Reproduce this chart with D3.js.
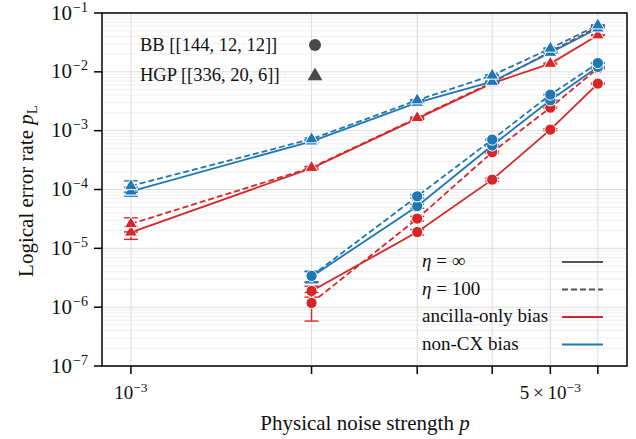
<!DOCTYPE html>
<html>
<head>
<meta charset="utf-8">
<script src="https://cdn.jsdelivr.net/npm/d3@7"></script>
<style>
  body { margin: 0; background: #fff; }
  text { font-family: "Liberation Serif", "DejaVu Serif", serif; fill: #111; }
</style>
</head>
<body>
<div id="chart"></div>
<script>
// x values (physical noise strength p)
const hgpP = [1e-3, 2e-3, 3e-3, 4e-3, 5e-3, 6e-3];
const bbP = [2e-3, 3e-3, 4e-3, 5e-3, 6e-3];

// HGP [[336,20,6]] logical error rates
const hgpAncInf = [1.87e-5, 2.3e-4, 1.6e-3, 6.4e-3, 1.38e-2, 4.2e-2];
const hgpAncInfErr = [4.5e-6, 1.2e-5, 5e-5, 1.5e-4, 3e-4, 8e-4];
const hgpAnc100 = [2.6e-5, 2.35e-4, 1.65e-3, 6.6e-3, 2.2e-2, 5.8e-2];
const hgpAnc100Err = [7e-6, 1.2e-5, 5e-5, 1.5e-4, 4e-4, 1e-3];
const hgpNcxInf = [9.3e-5, 6.6e-4, 3.0e-3, 6.8e-3, 2.12e-2, 5.5e-2];
const hgpNcxInfErr = [1.6e-5, 3e-5, 7e-5, 1.5e-4, 4e-4, 1e-3];
const hgpNcx100 = [1.15e-4, 7.2e-4, 3.3e-3, 8.7e-3, 2.5e-2, 6.2e-2];
const hgpNcx100Err = [2.5e-5, 3e-5, 7e-5, 2e-4, 5e-4, 1e-3];

// BB [[144,12,12]] logical error rates
const bbAncInf = [1.88e-6, 1.89e-5, 1.47e-4, 1.04e-3, 6.3e-3];
const bbAncInfErr = [4e-7, 2e-6, 8e-6, 4e-5, 1.5e-4];
const bbAnc100 = [1.18e-6, 3.2e-5, 4.3e-4, 2.46e-3, 1.15e-2];
const bbAnc100Err = [6e-7, 3e-6, 1.5e-5, 6e-5, 2e-4];
const bbNcxInf = [3.3e-6, 5.2e-5, 5.6e-4, 3.28e-3, 1.21e-2];
const bbNcxInfErr = [7e-7, 4e-6, 1.5e-5, 7e-5, 2e-4];
const bbNcx100 = [3.4e-6, 7.65e-5, 7.05e-4, 4.1e-3, 1.41e-2];
const bbNcx100Err = [7e-7, 5e-6, 2e-5, 8e-5, 2.5e-4];

// ticks
const xTickVals = [1e-3, 2e-3, 3e-3, 4e-3, 5e-3, 6e-3];
const xTickLabels = { 1e-3: ["10", "\u22123"], 5e-3: ["5\u2009\u00d7\u200910", "\u22123"] };
const yTickVals = [1e-7, 1e-6, 1e-5, 1e-4, 1e-3, 1e-2, 1e-1];
const yTickExps = ["\u22127", "\u22126", "\u22125", "\u22124", "\u22123", "\u22122", "\u22121"];
const xDomain = [8.95e-4, 6.71e-3];
const yDomain = [1e-7, 1e-1];

const red = "#d62728",
  blue = "#1f77b4",
  gray = "#4a4a4a";

const width = 636,
  height = 439;
const plot = { left: 102, right: 627, top: 13, bottom: 366 };

const svg = d3
  .select("#chart")
  .append("svg")
  .attr("width", width)
  .attr("height", height);

const x = d3.scaleLog().domain(xDomain).range([plot.left, plot.right]);
const y = d3.scaleLog().domain(yDomain).range([plot.bottom, plot.top]);

// Grid: y minor, y major, x lines
const yMinor = [];
for (let e = -7; e < -1; e++) {
  for (let m = 2; m <= 9; m++) yMinor.push(m * Math.pow(10, e));
}
svg
  .append("g")
  .selectAll("line")
  .data(yMinor)
  .join("line")
  .attr("x1", plot.left)
  .attr("x2", plot.right)
  .attr("y1", (d) => y(d))
  .attr("y2", (d) => y(d))
  .attr("stroke", "#ebebeb")
  .attr("stroke-width", 0.8);

svg
  .append("g")
  .selectAll("line")
  .data(yTickVals)
  .join("line")
  .attr("x1", plot.left)
  .attr("x2", plot.right)
  .attr("y1", (d) => y(d))
  .attr("y2", (d) => y(d))
  .attr("stroke", "#dcdcdc")
  .attr("stroke-width", 1);

svg
  .append("g")
  .selectAll("line")
  .data(xTickVals)
  .join("line")
  .attr("x1", (d) => x(d))
  .attr("x2", (d) => x(d))
  .attr("y1", plot.top)
  .attr("y2", plot.bottom)
  .attr("stroke", "#dcdcdc")
  .attr("stroke-width", 1);

// Series
const series = [
  { p: hgpP, v: hgpAncInf, e: hgpAncInfErr, color: red, dash: null, shape: "tri" },
  { p: hgpP, v: hgpAnc100, e: hgpAnc100Err, color: red, dash: "6,3", shape: "tri" },
  { p: hgpP, v: hgpNcxInf, e: hgpNcxInfErr, color: blue, dash: null, shape: "tri" },
  { p: hgpP, v: hgpNcx100, e: hgpNcx100Err, color: blue, dash: "6,3", shape: "tri" },
  { p: bbP, v: bbAncInf, e: bbAncInfErr, color: red, dash: null, shape: "circ" },
  { p: bbP, v: bbAnc100, e: bbAnc100Err, color: red, dash: "6,3", shape: "circ" },
  { p: bbP, v: bbNcxInf, e: bbNcxInfErr, color: blue, dash: null, shape: "circ" },
  { p: bbP, v: bbNcx100, e: bbNcx100Err, color: blue, dash: "6,3", shape: "circ" },
];

const line = d3
  .line()
  .x((d) => x(d[0]))
  .y((d) => y(d[1]));
const triPath = d3.symbol().type(d3.symbolTriangle).size(72)();

series.forEach((s) => {
  const pts = s.p.map((p, i) => [p, s.v[i], s.e[i]]);
  const g = svg.append("g");

  g.append("path")
    .attr("d", line(pts))
    .attr("fill", "none")
    .attr("stroke", s.color)
    .attr("stroke-width", 1.8)
    .attr("stroke-dasharray", s.dash);

  // error bars with caps
  pts.forEach((d) => {
    const lo = y(Math.max(d[1] - d[2], 1e-8)),
      hi = y(d[1] + d[2]),
      cx = x(d[0]);
    g.append("line")
      .attr("x1", cx).attr("x2", cx)
      .attr("y1", lo).attr("y2", hi)
      .attr("stroke", s.color).attr("stroke-width", 1.4);
    [lo, hi].forEach((yy) => {
      g.append("line")
        .attr("x1", cx - 7).attr("x2", cx + 7)
        .attr("y1", yy).attr("y2", yy)
        .attr("stroke", s.color).attr("stroke-width", 1.4);
    });
  });

  // markers
  if (s.shape === "circ") {
    g.selectAll("circle")
      .data(pts)
      .join("circle")
      .attr("cx", (d) => x(d[0]))
      .attr("cy", (d) => y(d[1]))
      .attr("r", 5.6)
      .attr("fill", s.color)
      .attr("stroke", "#fff")
      .attr("stroke-width", 1);
  } else {
    g.selectAll(".tri")
      .data(pts)
      .join("path")
      .attr("class", "tri")
      .attr("d", triPath)
      .attr("transform", (d) => `translate(${x(d[0])},${y(d[1])})`)
      .attr("fill", s.color)
      .attr("stroke", "#fff")
      .attr("stroke-width", 1);
  }
});

// Frame
svg
  .append("rect")
  .attr("x", plot.left)
  .attr("y", plot.top)
  .attr("width", plot.right - plot.left)
  .attr("height", plot.bottom - plot.top)
  .attr("fill", "none")
  .attr("stroke", "#000")
  .attr("stroke-width", 1.5);

// y ticks
const yt = svg.append("g");
yTickVals.forEach((v, i) => {
  yt.append("line")
    .attr("x1", plot.left - 8).attr("x2", plot.left)
    .attr("y1", y(v)).attr("y2", y(v))
    .attr("stroke", "#000").attr("stroke-width", 1.5);
  const t = yt
    .append("text")
    .attr("x", plot.left - 14)
    .attr("y", y(v) + 6.5)
    .attr("text-anchor", "end")
    .attr("font-size", 21);
  t.append("tspan").text("10");
  t.append("tspan").attr("dx", 1).attr("dy", -8).attr("font-size", 14).text(yTickExps[i]);
});

// x ticks
const xt = svg.append("g");
xTickVals.forEach((v) => {
  xt.append("line")
    .attr("x1", x(v)).attr("x2", x(v))
    .attr("y1", plot.bottom).attr("y2", plot.bottom + 8)
    .attr("stroke", "#000").attr("stroke-width", 1.5);
  const lab = xTickLabels[v];
  if (lab) {
    const t = xt
      .append("text")
      .attr("x", x(v))
      .attr("y", 399)
      .attr("text-anchor", "middle")
      .attr("font-size", 19);
    t.append("tspan").text(lab[0]);
    t.append("tspan").attr("dy", -7.5).attr("font-size", 13.5).text(lab[1]);
  }
});

// Axis labels
const xl = svg
  .append("text")
  .attr("x", 365)
  .attr("y", 430)
  .attr("text-anchor", "middle")
  .attr("font-size", 21);
xl.append("tspan").text("Physical noise strength ");
xl.append("tspan").attr("font-style", "italic").text("p");

const yl = svg
  .append("text")
  .attr("transform", "translate(33,191) rotate(-90)")
  .attr("text-anchor", "middle")
  .attr("font-size", 21);
yl.append("tspan").text("Logical error rate ");
yl.append("tspan").attr("font-style", "italic").text("p");
yl.append("tspan").attr("dy", 4).attr("font-size", 15).text("L");

// Code legend (top left)
const codeLegend = [
  { label: "BB [[144, 12, 12]]", shape: "circ" },
  { label: "HGP [[336, 20, 6]]", shape: "tri" },
];
codeLegend.forEach((d, i) => {
  const cy = 45 + i * 30;
  svg.append("text")
    .attr("x", 140).attr("y", cy + 6)
    .attr("font-size", 18.5)
    .text(d.label);
  if (d.shape === "circ") {
    svg.append("circle").attr("cx", 315).attr("cy", cy).attr("r", 6).attr("fill", gray);
  } else {
    svg.append("path")
      .attr("d", d3.symbol().type(d3.symbolTriangle).size(95)())
      .attr("transform", `translate(315,${cy + 1})`)
      .attr("fill", gray);
  }
});

// Style legend (bottom right)
const styleLegend = [
  { label: ["\u03b7", " = \u221e"], color: "#555", dash: null },
  { label: ["\u03b7", " = 100"], color: "#555", dash: "6,3" },
  { label: [null, "ancilla-only bias"], color: red, dash: null },
  { label: [null, "non-CX bias"], color: blue, dash: null },
];
styleLegend.forEach((d, i) => {
  const cy = 261 + i * 27.5;
  const t = svg.append("text")
    .attr("x", 422).attr("y", cy + 6)
    .attr("font-size", 19);
  if (d.label[0]) t.append("tspan").attr("font-style", "italic").text(d.label[0]);
  t.append("tspan").text(d.label[1]);
  svg.append("line")
    .attr("x1", 562).attr("x2", 603)
    .attr("y1", cy + 1).attr("y2", cy + 1)
    .attr("stroke", d.color)
    .attr("stroke-width", 1.8)
    .attr("stroke-dasharray", d.dash);
});
</script>
</body>
</html>
